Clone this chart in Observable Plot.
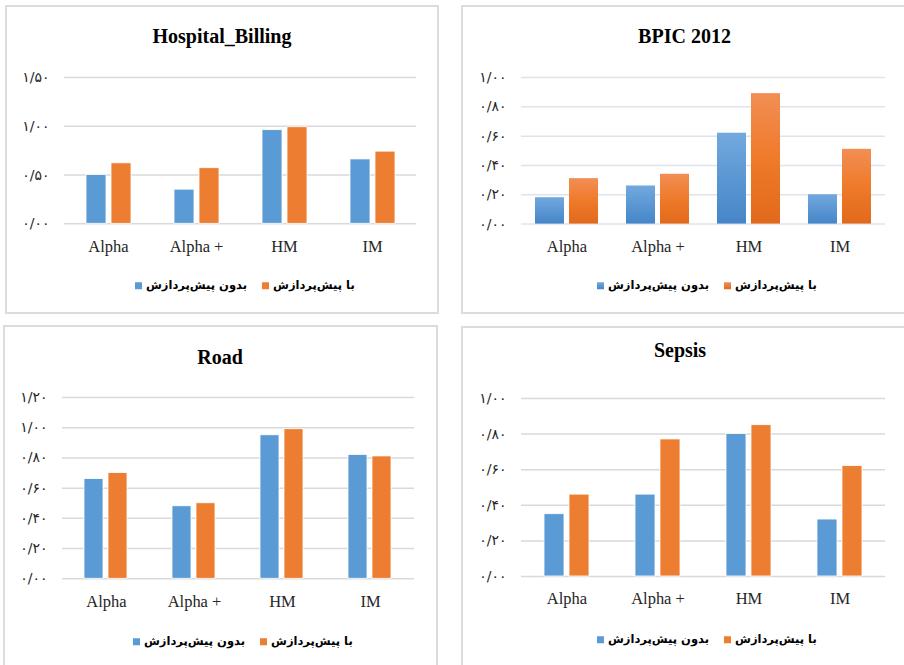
<!DOCTYPE html>
<html><head><meta charset="utf-8">
<script src="https://cdn.jsdelivr.net/npm/d3@7"></script>
<script src="https://cdn.jsdelivr.net/npm/@observablehq/plot@0.6"></script>
<style>
html,body{margin:0;padding:0;background:#fff;}
#root{position:relative;width:904px;height:665px;overflow:hidden;background:#fff;}
.panel{position:absolute;border:2px solid #dcdcdc;box-sizing:border-box;background:#fff;}
.title{position:absolute;font-family:"Liberation Serif","Times New Roman",serif;font-weight:bold;font-size:20px;color:#000;transform:translate(-50%,-50%);white-space:nowrap;line-height:1;}
.legend{position:absolute;display:flex;align-items:center;transform:translateY(-50%);font-family:"DejaVu Sans",sans-serif;font-weight:bold;font-size:11.5px;color:#000;white-space:nowrap;line-height:1;}
.legend .item{display:flex;align-items:center;}
.legend .item + .item{margin-left:15px;}
.sw{display:inline-block;width:7px;height:7px;margin-right:4px;}
.svgwrap{position:absolute;}
.svgwrap [aria-label^="fx-axis"] text{font-family:"Liberation Serif","Times New Roman",serif;font-size:16.5px;fill:#262626;}
.svgwrap [aria-label^="y-axis"] text{font-family:"DejaVu Sans",sans-serif;font-size:14px;fill:#262626;}
</style>
</head><body><div id="root"></div>
<script>
const categories = ["Alpha", "Alpha +", "HM", "IM"];
const seriesNames = ["بدون پیش‌پردازش", "با پیش‌پردازش"];

const hospitalWithout = [0.50, 0.35, 0.96, 0.66];
const hospitalWith    = [0.62, 0.57, 0.99, 0.74];
const bpicWithout     = [0.18, 0.26, 0.62, 0.20];
const bpicWith        = [0.31, 0.34, 0.89, 0.51];
const roadWithout     = [0.66, 0.48, 0.95, 0.82];
const roadWith        = [0.70, 0.50, 0.99, 0.81];
const sepsisWithout   = [0.35, 0.46, 0.80, 0.32];
const sepsisWith      = [0.46, 0.77, 0.85, 0.62];

const hospitalTicks  = [0, 0.5, 1.0, 1.5];
const hospitalLabels = ["۰/۰۰", "۰/۵۰", "۱/۰۰", "۱/۵۰"];
const bpicTicks      = [0, 0.2, 0.4, 0.6, 0.8, 1.0];
const bpicLabels     = ["۰/۰۰", "۰/۲۰", "۰/۴۰", "۰/۶۰", "۰/۸۰", "۱/۰۰"];
const roadTicks      = [0, 0.2, 0.4, 0.6, 0.8, 1.0, 1.2];
const roadLabels     = ["۰/۰۰", "۰/۲۰", "۰/۴۰", "۰/۶۰", "۰/۸۰", "۱/۰۰", "۱/۲۰"];
const sepsisTicks    = [0, 0.2, 0.4, 0.6, 0.8, 1.0];
const sepsisLabels   = ["۰/۰۰", "۰/۲۰", "۰/۴۰", "۰/۶۰", "۰/۸۰", "۱/۰۰"];

const titles = ["Hospital_Billing", "BPIC 2012", "Road", "Sepsis"];

function table(without, withp) {
  return categories.flatMap((c, i) => [
    {category: c, series: seriesNames[0], value: without[i]},
    {category: c, series: seriesNames[1], value: withp[i]}
  ]);
}

const root = document.getElementById("root");
const ML = 58, MR = 18, MT = 17, MB = 40;

function panel(cfg) {
  const p = document.createElement("div");
  p.className = "panel";
  Object.assign(p.style, {left: cfg.box[0] + "px", top: cfg.box[1] + "px", width: cfg.box[2] + "px", height: cfg.box[3] + "px"});
  root.appendChild(p);

  const {x0, x1, yTop, yBase, ticks, labels, data, colors, bar, gap, grid} = cfg;
  const W = (x1 - x0) / categories.length;
  const step = bar + gap, pIn = gap / step, pOut = (W / step - 2 + pIn) / 2;
  const svg = Plot.plot({
    width: (x1 - x0) + ML + MR,
    height: (yBase - yTop) + MT + MB,
    marginLeft: ML, marginRight: MR, marginTop: MT, marginBottom: MB,
    facet: {data, x: "category"},
    fx: {domain: categories, padding: 0, axis: "bottom", tickSize: 0, tickPadding: 16, label: null},
    x: {domain: seriesNames, paddingInner: pIn, paddingOuter: pOut, align: 0.5, axis: null},
    y: {domain: [0, ticks[ticks.length - 1]], ticks: ticks, tickFormat: d => labels[ticks.indexOf(d)], tickSize: 0, tickPadding: 15, label: null},
    color: {domain: seriesNames, range: colors},
    marks: [
      Plot.ruleY(ticks, {stroke: grid, strokeWidth: 1.5}),
      Plot.barY(data, {x: "series", y: "value", fill: "series", inset: 0, stroke: cfg.barStroke || "none", strokeWidth: 0.8})
    ]
  });
  if (cfg.defs) {
    const defs = document.createElementNS("http://www.w3.org/2000/svg", "defs");
    defs.innerHTML = cfg.defs;
    svg.insertBefore(defs, svg.firstChild);
  }
  const wrap = document.createElement("div");
  wrap.className = "svgwrap";
  const sw = (x1 - x0) + ML + MR, sh = (yBase - yTop) + MT + MB;
  Object.assign(wrap.style, {left: (x0 - ML) + "px", top: (yTop - MT) + "px", width: sw + "px", height: sh + "px"});
  wrap.appendChild(svg);
  root.appendChild(wrap);

  const t = document.createElement("div");
  t.className = "title";
  t.textContent = cfg.title;
  Object.assign(t.style, {left: cfg.titlePos[0] + "px", top: cfg.titlePos[1] + "px"});
  root.appendChild(t);

  const lg = document.createElement("div");
  lg.className = "legend";
  Object.assign(lg.style, {left: cfg.legendPos[0] + "px", top: cfg.legendPos[1] + "px"});
  seriesNames.forEach((s, i) => {
    const it = document.createElement("span");
    it.className = "item";
    const sq = document.createElement("span");
    sq.className = "sw";
    sq.style.background = cfg.swatch[i];
    const tx = document.createElement("span");
    tx.dir = "rtl";
    tx.textContent = s;
    it.appendChild(sq); it.appendChild(tx);
    lg.appendChild(it);
  });
  root.appendChild(lg);
}

panel({
  box: [5, 5, 434, 309], title: titles[0], titlePos: [222, 36],
  x0: 64, x1: 416, yTop: 77, yBase: 223.3,
  ticks: hospitalTicks, labels: hospitalLabels, data: table(hospitalWithout, hospitalWith),
  colors: ["#5b9bd5", "#ed7d31"], swatch: ["#5b9bd5", "#ed7d31"], bar: 20, gap: 5,
  grid: "#d9d9d9", barStroke: "#ffffff", legendPos: [135, 286]
});

panel({
  box: [461, 5, 470, 309], title: titles[1], titlePos: [684.5, 36],
  x0: 520, x1: 885.7, yTop: 76.7, yBase: 223.3,
  ticks: bpicTicks, labels: bpicLabels, data: table(bpicWithout, bpicWith),
  colors: ["url(#gBlue)", "url(#gOrange)"],
  swatch: ["linear-gradient(#72a9de,#4585c8)", "linear-gradient(#f28e55,#e1691b)"],
  defs: '<linearGradient id="gBlue" x1="0" y1="0" x2="0" y2="1"><stop offset="0" stop-color="#72a9de"/><stop offset="1" stop-color="#4585c8"/></linearGradient>' +
        '<linearGradient id="gOrange" x1="0" y1="0" x2="0" y2="1"><stop offset="0" stop-color="#f28e55"/><stop offset="0.5" stop-color="#ef7a2a"/><stop offset="1" stop-color="#e1691b"/></linearGradient>',
  bar: 30, gap: 5, grid: "#dfe3ea", legendPos: [597, 286]
});

panel({
  box: [3, 325, 435, 360], title: titles[2], titlePos: [220, 357],
  x0: 61, x1: 415.3, yTop: 397, yBase: 578.3,
  ticks: roadTicks, labels: roadLabels, data: table(roadWithout, roadWith),
  colors: ["#5b9bd5", "#ed7d31"], swatch: ["#5b9bd5", "#ed7d31"], bar: 20, gap: 5,
  grid: "#d9d9d9", barStroke: "#ffffff", legendPos: [133, 642]
});

panel({
  box: [461, 326, 470, 360], title: titles[3], titlePos: [680, 349.5],
  x0: 520, x1: 885.7, yTop: 397.7, yBase: 575.7,
  ticks: sepsisTicks, labels: sepsisLabels, data: table(sepsisWithout, sepsisWith),
  colors: ["#5b9bd5", "#ed7d31"], swatch: ["#5b9bd5", "#ed7d31"], bar: 20.3, gap: 5.7,
  grid: "#d9d9d9", barStroke: "#ffffff", legendPos: [597, 639.5]
});
</script>
</body></html>
